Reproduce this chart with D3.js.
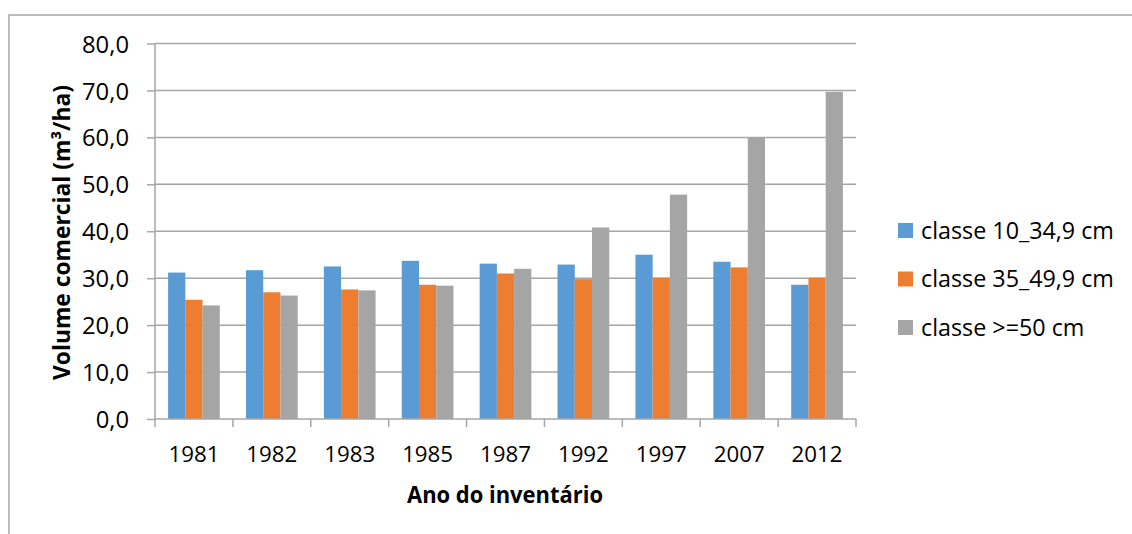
<!DOCTYPE html>
<html>
<head>
<meta charset="utf-8">
<script src="https://cdn.jsdelivr.net/npm/d3@7"></script>
<style>
  html, body { margin: 0; padding: 0; background: #fff; }
  svg { display: block; }
  text { font-family: "Open Sans", "Noto Sans", sans-serif; fill: #000; }
</style>
</head>
<body>
<svg id="chart" width="1132" height="534"></svg>
<script>
// Inventory years (x categories)
const years = ["1981", "1982", "1983", "1985", "1987", "1992", "1997", "2007", "2012"];

// Series names
const seriesNames = ["classe 10_34,9 cm", "classe 35_49,9 cm", "classe >=50 cm"];

// Commercial volume (m³/ha) per diameter class
const classe10_34 = [31.2, 31.7, 32.5, 33.7, 33.1, 32.9, 35.0, 33.5, 28.6];
const classe35_49 = [25.4, 27.0, 27.6, 28.6, 31.0, 29.8, 30.1, 32.3, 30.1];
const classe50 = [24.2, 26.3, 27.4, 28.4, 32.0, 40.8, 47.8, 60.0, 69.7];

const yTicks = [0, 10, 20, 30, 40, 50, 60, 70, 80];

const colors = ["#5b9bd5", "#ed7d31", "#a5a5a5"];
const gridColor = "#a6a6a6";

const svg = d3.select("#chart");

// Picks a font size so that `text` spans `target` pixels
function fitSize(text, target, weight) {
  const t = svg.append("text").attr("font-size", 100).attr("font-weight", weight || "normal").text(text);
  const w = t.node().getComputedTextLength();
  t.remove();
  return 100 * target / w;
}

// Chart frame
svg.append("rect")
  .attr("x", 9).attr("y", 15)
  .attr("width", 1140).attr("height", 540)
  .attr("fill", "none").attr("stroke", gridColor).attr("stroke-width", 1.5);

const plot = { left: 155, right: 856, top: 43.5, bottom: 419 };

const x = d3.scaleBand().domain(years).range([plot.left, plot.right]).paddingInner(0).paddingOuter(0);
const groupPad = x.bandwidth() * 0.168;
const xSeries = d3.scaleBand().domain(d3.range(seriesNames.length))
  .range([groupPad, x.bandwidth() - groupPad]).padding(0);
const y = d3.scaleLinear().domain([0, 80]).range([plot.bottom, plot.top]);

// Horizontal gridlines
svg.append("g").selectAll("line").data(yTicks.filter(d => d > 0)).join("line")
  .attr("x1", plot.left).attr("x2", plot.right)
  .attr("y1", d => y(d)).attr("y2", d => y(d))
  .attr("stroke", gridColor).attr("stroke-width", 1.5);

// Bars
const seriesValues = [classe10_34, classe35_49, classe50];
seriesValues.forEach((vals, si) => {
  svg.append("g").selectAll("rect").data(vals).join("rect")
    .attr("x", (d, i) => x(years[i]) + xSeries(si))
    .attr("width", xSeries.bandwidth())
    .attr("y", d => y(d))
    .attr("height", d => y(0) - y(d))
    .attr("fill", colors[si]);
});

// Y axis
const tickFont = fitSize("80,0", 47);
const yAxis = svg.append("g")
  .attr("transform", `translate(${plot.left},0)`)
  .call(d3.axisLeft(y).tickValues(yTicks).tickSize(8).tickPadding(18)
    .tickFormat(d => d3.format(".1f")(d).replace(".", ",")));
yAxis.select(".domain").attr("stroke", gridColor).attr("stroke-width", 1.5).attr("d", `M0,${plot.top}V${plot.bottom}`);
yAxis.selectAll(".tick line").attr("stroke", gridColor).attr("stroke-width", 1.5);
yAxis.selectAll(".tick text").attr("font-size", tickFont).attr("fill", "#000")
  .attr("font-family", "Open Sans").attr("dy", "0.36em");

// X axis: baseline plus boundary ticks between categories
const xAxis = svg.append("g");
xAxis.append("line")
  .attr("x1", plot.left).attr("x2", plot.right)
  .attr("y1", plot.bottom).attr("y2", plot.bottom)
  .attr("stroke", gridColor).attr("stroke-width", 1.5);
const bounds = years.map(c => x(c)).concat([x(years[years.length - 1]) + x.bandwidth()]);
xAxis.selectAll("line.tick").data(bounds).join("line").attr("class", "tick")
  .attr("x1", d => d).attr("x2", d => d)
  .attr("y1", plot.bottom).attr("y2", plot.bottom + 8)
  .attr("stroke", gridColor).attr("stroke-width", 1.5);
xAxis.selectAll("text").data(years).join("text")
  .attr("x", d => x(d) + x.bandwidth() / 2)
  .attr("y", 462)
  .attr("text-anchor", "middle")
  .attr("font-size", fitSize("1985", 51))
  .text(d => d);

// Axis titles (bold, condensed to the same run length)
svg.append("text")
  .attr("x", 505).attr("y", 502.5)
  .attr("text-anchor", "middle")
  .attr("font-weight", "bold")
  .attr("font-size", 23)
  .attr("textLength", 196).attr("lengthAdjust", "spacingAndGlyphs")
  .text("Ano do inventário");

svg.append("text")
  .attr("transform", "translate(70,232.5) rotate(-90)")
  .attr("text-anchor", "middle")
  .attr("font-weight", "bold")
  .attr("font-size", 23)
  .attr("textLength", 295).attr("lengthAdjust", "spacingAndGlyphs")
  .text("Volume comercial (m³/ha)");

// Legend
const legendFont = fitSize(seriesNames[0], 193);
const legend = svg.append("g").selectAll("g").data(seriesNames).join("g")
  .attr("transform", (d, i) => `translate(898,${230.5 + i * 48.5})`);
legend.append("rect")
  .attr("x", 0).attr("y", -7.5).attr("width", 15).attr("height", 15)
  .attr("fill", (d, i) => colors[i]);
legend.append("text")
  .attr("x", 23).attr("y", 0).attr("dy", "0.36em")
  .attr("font-size", legendFont)
  .text(d => d);
</script>
</body>
</html>
